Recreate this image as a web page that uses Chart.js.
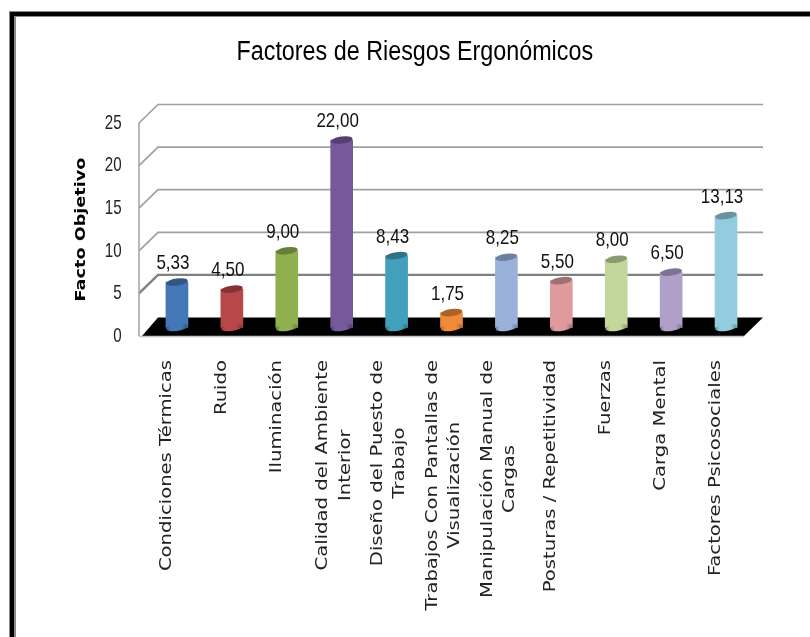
<!DOCTYPE html>
<html><head><meta charset="utf-8">
<style>html,body{margin:0;padding:0;background:#fff}canvas{display:block}#w{width:810px;height:637px;position:relative}</style>
<script src="https://cdn.jsdelivr.net/npm/chart.js@4"></script>
</head><body><div id="w"><canvas id="c" width="810" height="637"></canvas></div>
<script>
const categories=[
 "Condiciones Térmicas","Ruido","Iluminación",["Calidad del Ambiente","Interior"],
 ["Diseño del Puesto de","Trabajo"],["Trabajos Con Pantallas de","Visualización"],
 ["Manipulación Manual de","Cargas"],"Posturas / Repetitividad","Fuerzas","Carga Mental","Factores Psicosociales"];
const values=[5.33,4.5,9,22,8.43,1.75,8.25,5.5,8,6.5,13.13];
const barColors=["#4377B5","#B8474A","#8FB04F","#75599A","#42A0BC","#EE8A38","#9AB2DA","#DE9A9C","#C3D69C","#B0A0C8","#93CCDE"];
const titleText="Factores de Riesgos Ergonómicos";
const yAxisTitle="Facto Objetivo";
const sans="'Liberation Sans',sans-serif";

function shade(hex,f){
  const n=parseInt(hex.slice(1),16),r=n>>16,g=(n>>8)&255,b=n&255;
  const m=c=>Math.round(f<1?c*f:c+(255-c)*(f-1));
  return `rgb(${m(r)},${m(g)},${m(b)})`;
}
function barGrad(c,x,col){
  const g=c.createLinearGradient(x-11,0,x+11,0);
  g.addColorStop(0,shade(col,.72));g.addColorStop(.2,col);g.addColorStop(.7,col);g.addColorStop(1,shade(col,.7));
  return g;
}
function stretch(obj,method,ax,ay,sx,sy,dx,dy){
  const orig=obj[method];
  obj[method]=function(...args){
    const c=this.ctx;c.save();
    c.translate(ax+(dx||0),ay+(dy||0));c.scale(sx,sy);c.translate(-ax,-ay);
    orig.apply(this,args);c.restore();
  };
}
const DX=19,DY=18.5;
let wrapped=false;
const wall={id:'wall',
 afterLayout(ch){
  if(wrapped)return;wrapped=true;
  const x=ch.scales.x,y=ch.scales.y,a=ch.chartArea,c=ch.ctx;
  const origItems=x.getLabelItems;let cache=null;
  x.getLabelItems=function(area){
    if(cache)return cache;
    const out=[];
    origItems.call(this,area).forEach(it=>{
      if(!Array.isArray(it.label)){out.push(it);return;}
      c.save();c.font=it.font.string;
      const ws=it.label.map(t=>c.measureText(t).width),W=Math.max(...ws);c.restore();
      const lh=it.font.lineHeight;
      it.label.forEach((t,j)=>{
        const o=it.options,tr=o.translation;
        out.push({...it,label:t,textOffset:it.textOffset+(j-.38)*lh,
          options:{...o,translation:[tr[0],tr[1]+(W-ws[j])/2]}});
      });
    });
    return cache=out;
  };
  stretch(x,'drawLabels',0,a.bottom+24,1,1.225);
  stretch(y,'drawLabels',122,0,.72,1);
  stretch(y,'drawTitle',80,(a.top+a.bottom)/2,1,1.26);
  stretch(ch.titleBlock,'draw',412,52,.864,1,3,0);
 },
 beforeDraw(ch){
  const c=ch.ctx;
  c.save();
  c.fillStyle='#8a8a8a';c.fillRect(9,11,801,6);c.fillRect(9,11,7,626);
  c.fillStyle='#000';c.fillRect(10,12,800,4);c.fillRect(10,12,4,625);
  c.restore();
 },
 beforeDatasetsDraw(ch){
  const c=ch.ctx,y=ch.scales.y,a=ch.chartArea;
  const xl=a.left-10.5,xb=xl+DX,xr=a.right+9.5,y0=y.getPixelForValue(0);
  c.save();
  c.fillStyle='#000';c.beginPath();
  c.moveTo(xl+3,y0);c.lineTo(xb,y0-DY);c.lineTo(xr,y0-DY);c.lineTo(xr-DX,y0);c.closePath();c.fill();
  c.strokeStyle='#c4c4c4';c.lineWidth=1.5;c.beginPath();c.moveTo(xl,y0+.5);c.lineTo(xr-DX,y0+.5);c.stroke();
  y.ticks.forEach(t=>{
    if(t.value===0)return;
    const py=y.getPixelForValue(t.value);
    c.lineWidth=t.value===5?2.4:1.7;
    c.strokeStyle=t.value===5?'#808080':'#a0a0a0';
    c.beginPath();c.moveTo(xl,py);c.lineTo(xb,py-DY);c.lineTo(xr,py-DY);c.stroke();
  });
  c.strokeStyle='#a8a8a8';c.lineWidth=1.6;
  c.beginPath();c.moveTo(xl,y.getPixelForValue(25));c.lineTo(xl,y0);c.stroke();
  c.restore();
 },
 afterDatasetsDraw(ch){
  const c=ch.ctx,m=ch.getDatasetMeta(0);
  m.data.forEach((b,i)=>{
    const col=barColors[i],rx=b.width/2,ry=3.5,rot=-0.14;
    c.save();
    c.fillStyle=barGrad(c,b.x,col);
    c.beginPath();c.ellipse(b.x,b.base,rx,ry,rot,0,Math.PI*2);c.fill();
    c.fillStyle=shade(col,.72);
    c.beginPath();c.ellipse(b.x,b.y,rx,ry,rot,0,Math.PI*2);c.fill();
    c.fillStyle='#111';c.font="17px "+sans;c.textAlign='center';c.textBaseline='alphabetic';
    c.translate(b.x-4,b.y-13);c.scale(1,1.15);
    c.fillText(values[i].toFixed(2).replace('.',','),0,0);
    c.restore();
  });
 }
};
new Chart(document.getElementById('c'),{
 type:'bar',
 data:{labels:categories,datasets:[{data:values,yAxisID:'yBars',borderWidth:0,
   barThickness:22,
   backgroundColor(ctx){
     const b=ctx.element,col=barColors[ctx.dataIndex];
     if(!b||b.x===undefined)return col;
     return barGrad(ctx.chart.ctx,b.x,col);
   }}]},
 plugins:[wall],
 options:{responsive:false,animation:false,
  layout:{padding:{left:70,right:56.5,top:0,bottom:0}},
  plugins:{legend:{display:false},tooltip:{enabled:false},
   title:{display:true,text:titleText,color:'#000',font:{family:sans,size:27,weight:'normal'},padding:{top:36,bottom:54.6}}},
  scales:{
   x:{grid:{display:false},border:{display:false},
      afterFit(s){s.height=301;},
      ticks:{autoSkip:false,minRotation:90,maxRotation:90,labelOffset:-10,padding:16,color:'#222',
             font:{family:"'DejaVu Sans'",size:16,lineHeight:1.38}}},
   y:{min:0,max:25,position:'left',grid:{display:false},border:{display:false},
      afterFit(s){s.width=79.5;},
      ticks:{stepSize:5,padding:20,color:'#222',font:{family:sans,size:21}},
      title:{display:true,text:yAxisTitle,color:'#000',padding:{top:3,bottom:0},font:{family:"'DejaVu Sans'",size:14,weight:'bold'}}},
   yBars:{display:false,min:-1,max:24}
  }}
});
</script></body></html>
